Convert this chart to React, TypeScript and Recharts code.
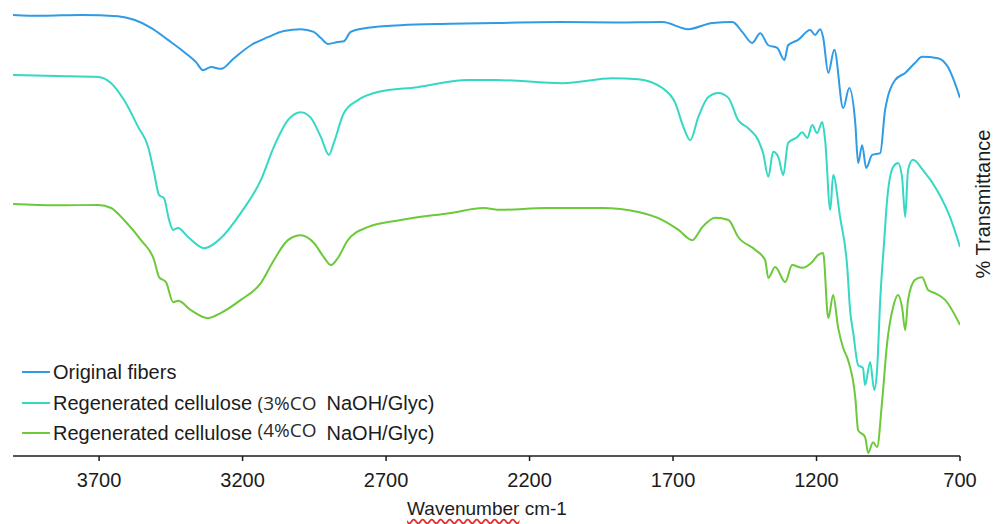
import React from "react";
import { LineChart, Line, XAxis, YAxis } from "recharts";

const xTicks = [3700, 3200, 2700, 2200, 1700, 1200, 700];

const seriesNames = [
  "Original fibers",
  "Regenerated cellulose (3%CO NaOH/Glyc)",
  "Regenerated cellulose (4%CO NaOH/Glyc)",
];
const seriesColors = ["#2f9be6", "#35d8c3", "#6cc93a"];

const blueWn = [4000, 3900, 3762, 3634, 3578, 3519, 3460, 3404, 3362, 3338, 3310, 3275, 3230, 3171, 3112, 3056, 2997, 2952, 2927, 2903, 2868, 2847, 2823, 2764, 2649, 2475, 2318, 2092, 1900, 1737, 1647, 1563, 1493, 1459, 1424, 1396, 1368, 1337, 1312, 1299, 1264, 1222, 1205, 1187, 1177, 1159, 1138, 1107, 1086, 1065, 1055, 1041, 1027, 1006, 978, 961, 926, 891, 857, 832, 777, 742, 700];
const blueT = [98.9, 98.7, 98.9, 98.6, 97.8, 96.0, 93.3, 90.6, 88.3, 86.5, 87.2, 86.8, 89.2, 92.1, 93.9, 95.3, 95.7, 95.1, 93.7, 92.4, 92.8, 93.0, 95.1, 96.0, 96.6, 96.9, 97.1, 97.3, 97.2, 97.3, 95.7, 97.1, 97.3, 95.1, 92.6, 94.8, 92.1, 91.5, 88.8, 92.1, 93.3, 95.5, 94.4, 95.7, 93.9, 85.9, 91.1, 78.0, 82.5, 74.7, 65.7, 69.7, 64.6, 67.5, 67.9, 77.6, 84.3, 85.9, 88.1, 89.5, 89.2, 87.2, 80.3];

const cyanWn = [4000, 3850, 3703, 3658, 3613, 3564, 3529, 3508, 3491, 3474, 3456, 3442, 3425, 3390, 3334, 3275, 3206, 3136, 3091, 3042, 2997, 2962, 2927, 2899, 2882, 2847, 2798, 2729, 2590, 2416, 2318, 2085, 1911, 1821, 1737, 1692, 1664, 1640, 1612, 1577, 1542, 1507, 1473, 1438, 1403, 1386, 1368, 1351, 1333, 1316, 1299, 1267, 1250, 1232, 1215, 1198, 1180, 1170, 1152, 1142, 1118, 1093, 1083, 1072, 1055, 1038, 1031, 1013, 999, 989, 978, 964, 954, 933, 916, 902, 891, 881, 864, 829, 780, 735, 700];
const cyanT = [85.4, 85.2, 85.0, 83.6, 79.8, 73.8, 69.3, 63.4, 58.5, 57.8, 52.9, 50.7, 51.1, 49.1, 46.6, 48.9, 54.5, 61.9, 69.3, 75.3, 77.1, 75.8, 71.5, 67.5, 70.2, 76.9, 79.8, 81.6, 82.7, 84.3, 84.3, 83.6, 84.7, 84.5, 82.5, 79.1, 73.8, 70.8, 76.0, 80.5, 81.4, 80.3, 75.3, 73.5, 70.8, 67.9, 62.6, 68.2, 67.0, 63.0, 70.2, 71.5, 72.6, 71.3, 74.2, 72.4, 74.9, 70.8, 55.2, 63.0, 53.6, 42.4, 32.7, 27.6, 20.4, 19.7, 15.9, 21.1, 14.8, 19.3, 35.0, 48.4, 57.4, 64.8, 65.7, 62.6, 53.6, 64.1, 66.4, 64.1, 59.6, 53.6, 46.9];

const greenWn = [4000, 3850, 3703, 3658, 3613, 3554, 3508, 3491, 3467, 3442, 3425, 3380, 3320, 3275, 3206, 3136, 3091, 3042, 2997, 2952, 2917, 2892, 2868, 2833, 2764, 2649, 2475, 2360, 2301, 2144, 1946, 1821, 1737, 1681, 1633, 1598, 1553, 1507, 1473, 1413, 1379, 1368, 1344, 1309, 1285, 1250, 1215, 1194, 1177, 1159, 1142, 1125, 1107, 1090, 1065, 1055, 1031, 1020, 1003, 989, 971, 954, 933, 916, 902, 891, 881, 857, 832, 811, 787, 752, 700];
const greenT = [56.5, 56.2, 56.3, 55.6, 52.9, 48.4, 43.9, 40.1, 39.0, 34.5, 34.8, 32.7, 30.9, 32.1, 35.0, 38.8, 43.9, 48.4, 49.5, 47.8, 44.6, 42.8, 44.4, 48.4, 51.3, 52.9, 54.5, 55.6, 55.2, 55.6, 55.6, 54.7, 52.9, 50.7, 48.4, 51.3, 53.4, 52.9, 49.1, 46.2, 43.9, 39.9, 42.4, 39.0, 42.8, 42.2, 43.5, 45.1, 45.5, 30.9, 36.1, 28.9, 24.2, 21.5, 13.2, 5.8, 4.3, 0.7, 3.1, 2.0, 12.6, 25.3, 33.4, 36.1, 33.4, 28.2, 35.0, 39.5, 40.1, 37.2, 36.5, 35.0, 29.4];

const toData = (wn: number[], t: number[]) => wn.map((w, i) => ({ wn: w, t: t[i] }));
const seriesData = [toData(blueWn, blueT), toData(cyanWn, cyanT), toData(greenWn, greenT)];

const FONT = "'Liberation Sans', Arial, sans-serif";
const TEXT = "#1c1c1c";

const LegendBox = () => (
  <div
    style={{
      position: "absolute",
      left: 22,
      top: 357,
      fontFamily: FONT,
      fontSize: 20,
      color: TEXT,
      lineHeight: "30.5px",
      whiteSpace: "nowrap",
    }}
  >
    {seriesNames.map((name, i) => {
      const m = name.match(/^(.*?)\s\((\d%CO)\s(.*)$/);
      return (
        <div key={name} style={{ display: "flex", alignItems: "center", height: 30.5 }}>
          <span
            style={{
              display: "inline-block",
              width: 28,
              height: 2,
              background: seriesColors[i],
              marginRight: 3,
            }}
          />
          {m ? (
            <span>
              {m[1] + " "}
              <span
                style={{
                  fontFamily: "'Open Sans', 'DejaVu Sans', sans-serif",
                  fontSize: 19,
                  color: "#2a2a2a",
                  position: "relative",
                  top: i === 2 ? -3 : 0,
                }}
              >
                {"(" + m[2]}
              </span>
              <span style={{ marginLeft: 10 }}>{m[3]}</span>
            </span>
          ) : (
            <span>{name}</span>
          )}
        </div>
      );
    })}
  </div>
);

export default function App() {
  return (
    <div style={{ position: "absolute", left: 0, top: 0, width: 995, height: 524, background: "#fff" }}>
      <LineChart width={995} height={524} margin={{ top: 10, right: 35, left: 13, bottom: 0 }}>
        <XAxis
          type="number"
          dataKey="wn"
          domain={[700, 4000]}
          reversed
          ticks={xTicks}
          interval={0}
          allowDataOverflow
          height={68}
          tickSize={5}
          tickMargin={12}
          axisLine={{ stroke: TEXT, strokeWidth: 1.5 }}
          tickLine={{ stroke: TEXT, strokeWidth: 1.5 }}
          tick={{ fill: TEXT, fontSize: 20, fontFamily: FONT }}
        />
        <YAxis type="number" dataKey="t" domain={[0, 100]} hide allowDataOverflow />
        {seriesData.map((d, i) => (
          <Line
            key={seriesNames[i]}
            data={d}
            dataKey="t"
            name={seriesNames[i]}
            type="monotone"
            stroke={seriesColors[i]}
            strokeWidth={2}
            dot={false}
            activeDot={false}
            isAnimationActive={false}
          />
        ))}
      </LineChart>
      <LegendBox />
      <div
        style={{
          position: "absolute",
          left: 337,
          top: 498,
          width: 300,
          height: 22,
          lineHeight: "22px",
          textAlign: "center",
          fontFamily: FONT,
          fontSize: 19,
          color: TEXT,
          whiteSpace: "nowrap",
        }}
      >
        <span style={{ textDecoration: "underline wavy #e03030", textUnderlineOffset: 3 }}>Wavenumber</span> cm-1
      </div>
      <div
        style={{
          position: "absolute",
          left: 883,
          top: 192,
          width: 200,
          height: 24,
          lineHeight: "24px",
          textAlign: "center",
          transform: "rotate(-90deg)",
          fontFamily: FONT,
          fontSize: 20,
          color: TEXT,
          whiteSpace: "nowrap",
        }}
      >
        % Transmittance
      </div>
    </div>
  );
}
